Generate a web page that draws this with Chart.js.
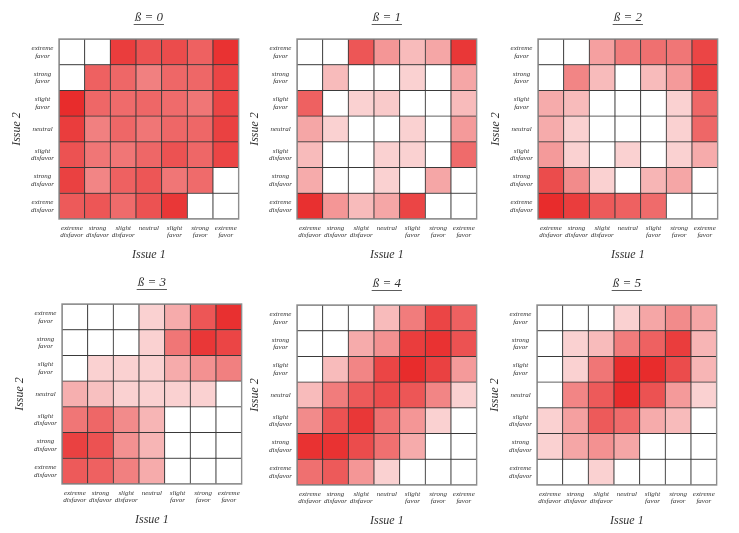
<!DOCTYPE html>
<html>
<head>
<meta charset="utf-8">
<script src="https://cdn.jsdelivr.net/npm/chart.js@4.4.1/dist/chart.umd.min.js"></script>
<style>
  body { margin: 0; background: #fff; }
  #wrap { position: relative; width: 739px; height: 533px; overflow: hidden; }
  #wrap canvas { position: absolute; }
</style>
</head>
<body>
<div id="wrap"></div>
<script>
// categories used on both axes (x: left -> right, y: bottom -> top)
const categories = [
    ['extreme', 'disfavor'], ['strong', 'disfavor'], ['slight', 'disfavor'],
    ['neutral'], ['slight', 'favor'], ['strong', 'favor'], ['extreme', 'favor']
];
const betaLabels = ['ß = 0', 'ß = 1', 'ß = 2', 'ß = 3', 'ß = 4', 'ß = 5'];

// intensity 0..1, rows listed top (extreme favor) to bottom (extreme disfavor)
const beta0 = [
    [0, 0, 0.92, 0.82, 0.85, 0.75, 0.97],
    [0, 0.75, 0.72, 0.6, 0.72, 0.72, 0.88],
    [1.0, 0.72, 0.7, 0.72, 0.7, 0.65, 0.88],
    [0.92, 0.6, 0.72, 0.65, 0.72, 0.72, 0.9],
    [0.82, 0.65, 0.65, 0.72, 0.82, 0.72, 0.88],
    [0.9, 0.58, 0.75, 0.8, 0.65, 0.7, 0],
    [0.78, 0.8, 0.7, 0.82, 0.95, 0, 0]
];
const beta1 = [
    [0, 0, 0.8, 0.5, 0.32, 0.42, 0.95],
    [0, 0.32, 0, 0, 0.22, 0, 0.42],
    [0.75, 0, 0.22, 0.25, 0, 0, 0.32],
    [0.42, 0.22, 0, 0, 0.22, 0, 0.48],
    [0.32, 0, 0, 0.22, 0.22, 0, 0.7],
    [0.4, 0, 0, 0.22, 0, 0.42, 0],
    [0.98, 0.5, 0.32, 0.42, 0.88, 0, 0]
];
const beta2 = [
    [0, 0, 0.45, 0.62, 0.68, 0.65, 0.88],
    [0, 0.58, 0.32, 0, 0.32, 0.48, 0.9],
    [0.4, 0.32, 0, 0, 0, 0.22, 0.72],
    [0.4, 0.22, 0, 0, 0, 0.22, 0.72],
    [0.48, 0.22, 0, 0.22, 0, 0.22, 0.4],
    [0.85, 0.55, 0.22, 0, 0.35, 0.42, 0],
    [1.0, 0.92, 0.78, 0.75, 0.7, 0, 0]
];
const beta3 = [
    [0, 0, 0, 0.22, 0.4, 0.8, 0.98],
    [0, 0, 0, 0.22, 0.65, 0.95, 0.88],
    [0, 0.22, 0.22, 0.22, 0.4, 0.52, 0.6],
    [0.38, 0.3, 0.22, 0.22, 0.22, 0.22, 0],
    [0.65, 0.72, 0.55, 0.35, 0, 0, 0],
    [0.9, 0.82, 0.52, 0.35, 0, 0, 0],
    [0.78, 0.75, 0.6, 0.4, 0, 0, 0]
];
const beta4 = [
    [0, 0, 0, 0.32, 0.62, 0.88, 0.75],
    [0, 0, 0.4, 0.52, 0.92, 0.97, 0.82],
    [0, 0.32, 0.58, 0.88, 1.0, 0.9, 0.48],
    [0.32, 0.62, 0.78, 0.85, 0.8, 0.58, 0.22],
    [0.55, 0.82, 0.95, 0.68, 0.5, 0.22, 0],
    [0.97, 0.97, 0.85, 0.68, 0.4, 0, 0],
    [0.68, 0.78, 0.5, 0.22, 0, 0, 0]
];
const beta5 = [
    [0, 0, 0, 0.22, 0.42, 0.55, 0.42],
    [0, 0.22, 0.32, 0.62, 0.75, 0.92, 0.35],
    [0, 0.22, 0.65, 1.0, 1.0, 0.85, 0.35],
    [0, 0.58, 0.78, 1.0, 0.82, 0.48, 0.22],
    [0.22, 0.45, 0.78, 0.7, 0.4, 0.32, 0],
    [0.22, 0.42, 0.52, 0.42, 0, 0, 0],
    [0, 0, 0.22, 0, 0, 0, 0]
];
const allBetas = [beta0, beta1, beta2, beta3, beta4, beta5];

// top-left corner of each plot area on the page
const areaCorners = [[59, 39], [297, 39], [538, 39], [62, 304], [297, 305], [537, 305]];

const SERIF = "'Liberation Serif', 'DejaVu Serif', serif";
const TEXT = '#333333';

function heatColor(v) {
    const r = Math.round(255 - v * (255 - 232));
    const g = Math.round(255 - v * (255 - 44));
    return 'rgb(' + r + ',' + g + ',' + g + ')';
}

// frame round the grid + underline under the title
const framePlugin = {
    id: 'frame',
    afterDatasetsDraw(chart) {
        const a = chart.chartArea, ctx = chart.ctx;
        ctx.save();
        ctx.strokeStyle = '#8e8e8e';
        ctx.lineWidth = 1.4;
        ctx.strokeRect(a.left, a.top, a.right - a.left, a.bottom - a.top);
        ctx.restore();
    },
    afterDraw(chart) {
        const tb = chart.titleBlock, opts = chart.options.plugins.title;
        if (!tb) return;
        const ctx = chart.ctx;
        ctx.save();
        ctx.font = 'italic ' + opts.font.size + 'px ' + SERIF;
        const w = ctx.measureText(opts.text).width;
        const cx = tb.left + tb.width / 2;
        const cy = tb.top + opts.padding.top + opts.font.size * 1.2 / 2;
        ctx.strokeStyle = TEXT;
        ctx.lineWidth = 0.8;
        ctx.beginPath();
        ctx.moveTo(cx - w / 2 - 1, cy + opts.font.size * 0.5);
        ctx.lineTo(cx + w / 2 + 1, cy + opts.font.size * 0.5);
        ctx.stroke();
        ctx.restore();
    }
};

const wrap = document.getElementById('wrap');

allBetas.forEach(function(rows, p) {
    const canvas = document.createElement('canvas');
    canvas.width = 240;
    canvas.height = 266;
    canvas.style.left = (areaCorners[p][0] - 57) + 'px';
    canvas.style.top = (areaCorners[p][1] - 39) + 'px';
    wrap.appendChild(canvas);

    // datasets stacked from the bottom row upwards
    const bottomUp = rows.slice().reverse();

    new Chart(canvas.getContext('2d'), {
        type: 'bar',
        data: {
            labels: categories,
            datasets: bottomUp.map(function(row) {
                return {
                    data: row.map(function() { return 1; }),
                    backgroundColor: row.map(heatColor),
                    borderColor: '#3a3a3a',
                    borderWidth: 0.8,
                    borderSkipped: false,
                    barPercentage: 1,
                    categoryPercentage: 1
                };
            })
        },
        options: {
            responsive: false,
            animation: false,
            devicePixelRatio: 1,
            layout: { padding: { left: 0, right: 2, top: 0, bottom: 0 } },
            plugins: {
                legend: { display: false },
                tooltip: { enabled: false },
                title: {
                    display: true,
                    text: betaLabels[p],
                    fullSize: false,
                    color: TEXT,
                    font: { family: SERIF, size: 13, style: 'italic', weight: 'normal' },
                    padding: { top: 10.2, bottom: 13.2 }
                }
            },
            scales: {
                x: {
                    stacked: true,
                    grid: { display: false, drawTicks: false },
                    border: { display: false },
                    ticks: {
                        color: TEXT,
                        font: { family: SERIF, size: 7, style: 'italic', lineHeight: 1.1 },
                        padding: 5,
                        maxRotation: 0,
                        minRotation: 0,
                        autoSkip: false
                    },
                    title: {
                        display: true,
                        text: 'Issue 1',
                        color: TEXT,
                        font: { family: SERIF, size: 12, style: 'italic' },
                        padding: { top: 0, bottom: 4.3 }
                    },
                    afterFit: function(s) { s.height = 47; }
                },
                y: {
                    type: 'linear',
                    stacked: true,
                    min: 0,
                    max: 7,
                    grid: { display: false, drawTicks: false },
                    border: { display: false },
                    afterBuildTicks: function(s) {
                        s.ticks = categories.map(function(c, i) { return { value: i + 0.5 }; });
                    },
                    ticks: {
                        color: TEXT,
                        font: { family: SERIF, size: 7, style: 'italic', lineHeight: 1.1 },
                        crossAlign: 'center',
                        padding: 5,
                        callback: function(v) { return categories[Math.floor(v)]; }
                    },
                    title: {
                        display: true,
                        text: 'Issue 2',
                        color: TEXT,
                        font: { family: SERIF, size: 12, style: 'italic' },
                        padding: { top: 7.8, bottom: 0 }
                    },
                    afterFit: function(s) { s.width = 57; }
                }
            }
        },
        plugins: [framePlugin]
    });
});
</script>
</body>
</html>
